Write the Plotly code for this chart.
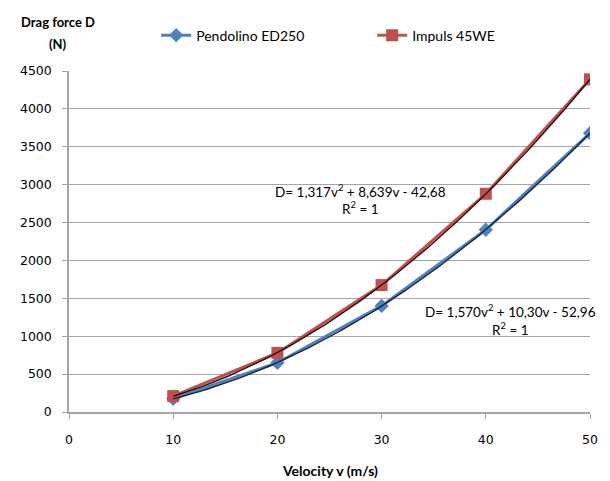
import numpy as np
import plotly.graph_objects as go

velocity = [10, 20, 30, 40, 50]
pendolino = [175, 650, 1400, 2405, 3680]
impuls = [210, 780, 1675, 2880, 4390]
series_names = ["Pendolino ED250", "Impuls 45WE"]
eq1_lines = ["D= 1,317v<sup>2</sup> + 8,639v - 42,68", "R<sup>2</sup> = 1"]
eq2_lines = ["D= 1,570v<sup>2</sup> + 10,30v - 52,96", "R<sup>2</sup> = 1"]
y_title_lines = ["<b>Drag force D</b>", "<b>(N)</b>"]
x_title = "<b>Velocity v (m/s)</b>"
y_ticks = [0, 500, 1000, 1500, 2000, 2500, 3000, 3500, 4000, 4500]
x_ticks = [0, 10, 20, 30, 40, 50]

BLUE = "#4F81BD"
RED = "#C0504D"
FONT = "Lato, 'Open Sans', sans-serif"
GRID = "#A6A6A6"

fig = go.Figure()
fig.add_trace(go.Scatter(x=velocity, y=pendolino, name=series_names[0], mode="lines+markers",
                         line=dict(color=BLUE, width=3),
                         marker=dict(symbol="diamond", size=11, color=BLUE)))
fig.add_trace(go.Scatter(x=velocity, y=impuls, name=series_names[1], mode="lines+markers",
                         line=dict(color=RED, width=3),
                         marker=dict(symbol="square", size=12, color=RED)))

# polynomial trendlines fitted to the data
xs = np.linspace(min(velocity), max(velocity), 100)
for ys, col in [(pendolino, "#17233F"), (impuls, "#2A1010")]:
    c = np.polyfit(velocity, ys, 2)
    fig.add_trace(go.Scatter(x=xs, y=np.polyval(c, xs), mode="lines", showlegend=False,
                             hoverinfo="skip", line=dict(color=col, width=1.4)))


def ann(x, y, text, size):
    fig.add_annotation(x=x, y=y, xref="paper", yref="paper", text=text, showarrow=False,
                       xanchor="center", yanchor="middle",
                       font=dict(family=FONT, size=size, color="#000"))


ann(0.560, 0.649, eq1_lines[0], 13.5)
ann(0.560, 0.598, eq1_lines[1], 13.5)
ann(0.848, 0.296, eq2_lines[0], 13.5)
ann(0.848, 0.242, eq2_lines[1], 13.5)
ann(-0.021, 1.144, y_title_lines[0], 13)
ann(-0.021, 1.078, y_title_lines[1], 13)
ann(0.5, -0.171, x_title, 14)

fig.update_layout(
    width=610, height=481,
    margin=dict(l=56, r=28, t=59, b=77),
    paper_bgcolor="white", plot_bgcolor="white",
    font=dict(family=FONT, size=12, color="#000"),
    showlegend=True,
    legend=dict(orientation="h", x=0.1673, y=1.104, xanchor="left", yanchor="middle",
                font=dict(family=FONT, size=14), entrywidth=171, itemwidth=30,
                bgcolor="rgba(0,0,0,0)"),
    xaxis=dict(range=[0, 50], tickvals=x_ticks, showgrid=False, showline=True,
               linecolor=GRID, linewidth=1.5, ticks="outside", ticklen=5,
               tickcolor=GRID, zeroline=False, ticklabelstandoff=10,
               tickfont=dict(family="DejaVu Sans", size=12.5)),
    yaxis=dict(range=[0, 4500], tickvals=y_ticks, showgrid=True, gridcolor=GRID,
               gridwidth=1.2, showline=True, linecolor=GRID, linewidth=1.5,
               ticks="outside", ticklen=5, tickcolor=GRID, zeroline=False,
               ticklabelstandoff=8,
               tickfont=dict(family="DejaVu Sans", size=12.5)),
)

fig.write_html("out.html")
